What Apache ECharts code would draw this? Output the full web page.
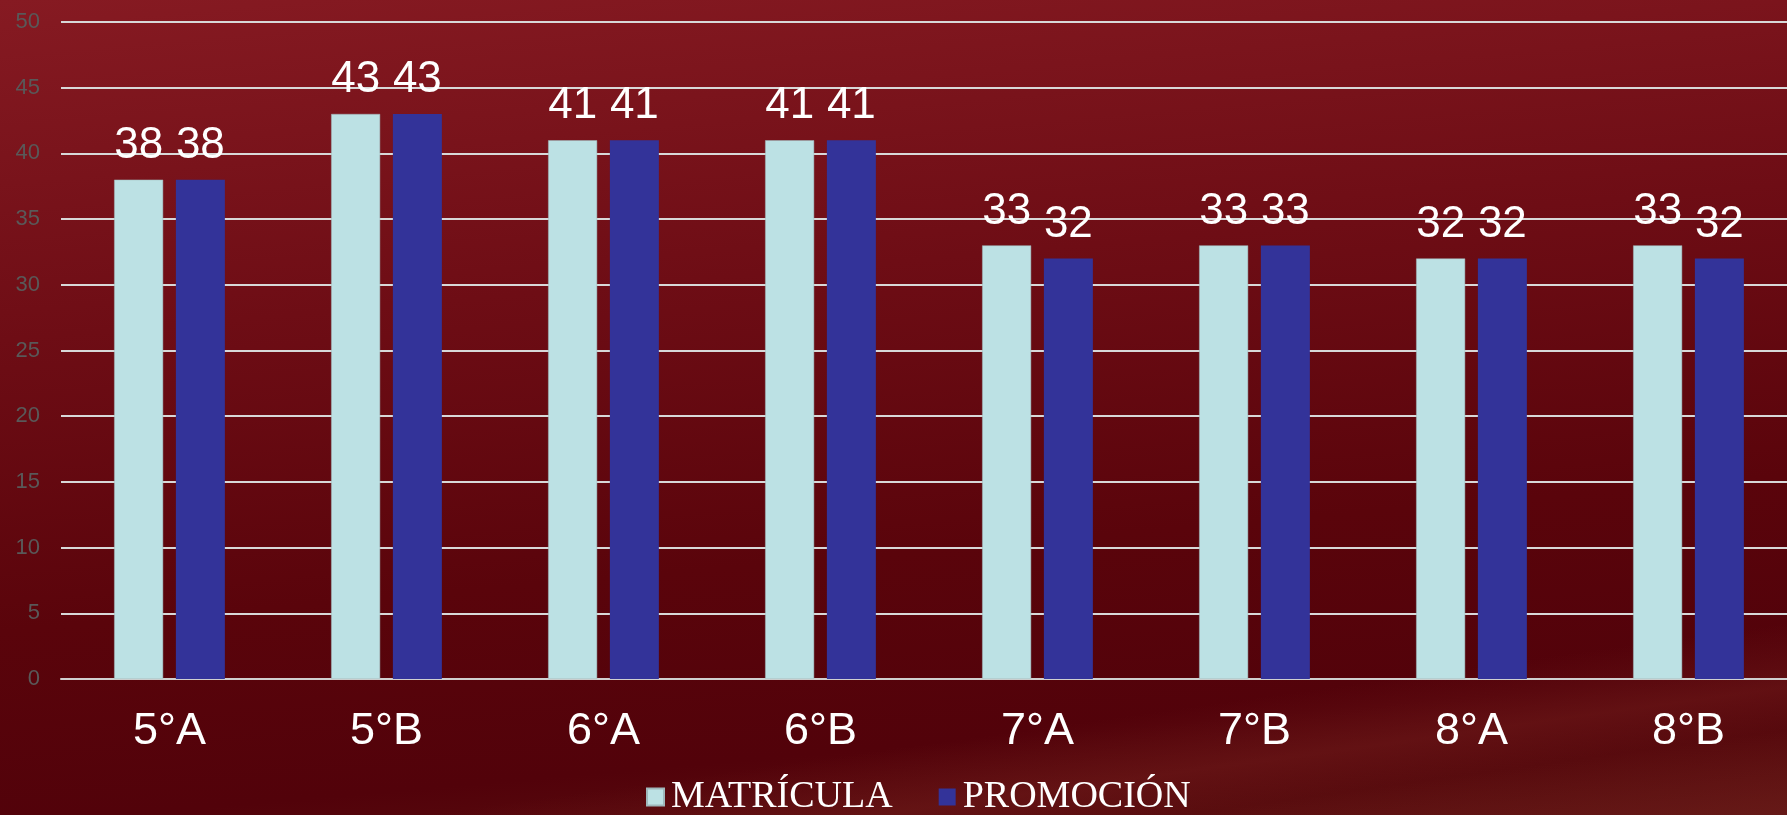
<!DOCTYPE html>
<html>
<head>
<meta charset="utf-8">
<script src="https://cdn.jsdelivr.net/npm/echarts@6/dist/echarts.min.js"></script>
<style>
html,body{margin:0;padding:0;width:1787px;height:815px;overflow:hidden;}
body{
  background:
    linear-gradient(172deg, rgba(0,0,0,0) 82%, rgba(115,30,28,0.45) 88%, rgba(0,0,0,0) 92%, rgba(110,30,28,0.5) 100%),
    linear-gradient(175deg, #861a22 0%, #6e0d15 35%, #5a040b 65%, #52020a 85%, #5e1412 100%);
}
#c{width:1797px;height:815px;}
</style>
</head>
<body>
<div id="c"></div>
<script>
const categories = ['5°A','5°B','6°A','6°B','7°A','7°B','8°A','8°B'];
const seriesNames = ['MATRÍCULA','PROMOCIÓN'];
const matricula = [38,43,41,41,33,33,32,33];
const promocion = [38,43,41,41,32,33,32,32];
const yMin = 0, yMax = 50, yInterval = 5;

const chart = echarts.init(document.getElementById('c'));
const labelStyle = {show:true, position:'top', distance:12, color:'#ffffff', fontSize:44, fontFamily:'Liberation Sans, Arial, sans-serif'};
chart.setOption({
  backgroundColor:'transparent',
  animation:false,
  grid:{left:61, right:0, top:22, height:657, containLabel:false},
  legend:{
    bottom:-6, left:641, itemWidth:17, itemHeight:17, itemGap:46,
    icon:'rect',
    textStyle:{color:'#ffffff', fontSize:38, fontFamily:'Liberation Serif, Times New Roman, serif', padding:[0,0,0,2]},
    data:seriesNames
  },
  xAxis:{
    type:'category', data:categories,
    axisLine:{lineStyle:{color:'#d0d0d0', width:2}},
    axisTick:{show:false},
    axisLabel:{color:'#ffffff', fontSize:45, margin:30, fontFamily:'Liberation Sans, Arial, sans-serif'}
  },
  yAxis:{
    type:'value', min:yMin, max:yMax, interval:yInterval,
    axisLine:{show:false}, axisTick:{show:false},
    splitLine:{lineStyle:{color:'#d8d8d8', width:2}},
    axisLabel:{color:'#595959', fontSize:22, margin:21, fontFamily:'Liberation Sans, Arial, sans-serif'}
  },
  series:[
    {name:seriesNames[0], type:'bar', data:matricula, barWidth:49, barGap:'26%',
     itemStyle:{color:'#bce1e4', borderColor:'#9fb8bb', borderWidth:0.5}, label:labelStyle},
    {name:seriesNames[1], type:'bar', data:promocion, barWidth:49, barGap:'26%',
     itemStyle:{color:'#333399'}, label:labelStyle}
  ]
});
</script>
</body>
</html>
